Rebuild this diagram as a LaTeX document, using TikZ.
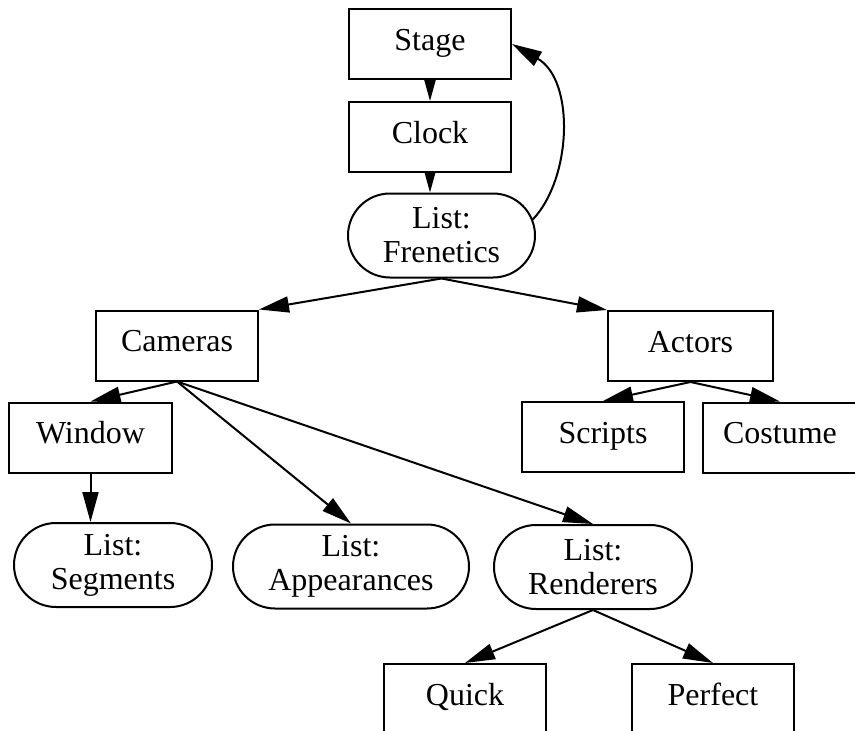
\documentclass[tikz,border=0pt]{standalone}
\usepackage{fontspec}
\setmainfont{Liberation Serif}
\usetikzlibrary{arrows.meta, shapes.misc, backgrounds}
\newcommand{\nodefont}{\fontsize{32}{34}\selectfont}
\tikzset{
  bx/.style={draw, fill=white, line width=2pt, minimum width=#1,
             minimum height=70pt, inner sep=0pt, align=center,
             text height=21pt, text depth=9pt, font=\nodefont},
  bx/.default=162pt,
  lst/.style={rounded rectangle, draw, fill=white, line width=2pt,
              minimum width=#1, minimum height=84pt, inner sep=0pt,
              align=center, font=\nodefont},
  arr/.style={-{Triangle[length=30pt, width=16pt]}, line width=2pt},
}

\begin{document}
\begin{tikzpicture}[x=1pt, y=-1pt]
    \useasboundingbox (0,0) rectangle (855,731);
    \clip (0,0) rectangle (855,731);

    % ── TOP ─────────────────────────────────────────────────
    \node[bx](stage) at (430,44){Stage};
    \node[bx](clock) at (430,137){Clock};
    \node[lst=187pt](fren) at (441.5,235.5){List:\\Frenetics};

    % ── SECOND ROW ──────────────────────────────────────────
    \node[bx](cam)    at (177,345.5){Cameras};
    \node[bx=165pt](actors) at (690.5,346){Actors};

    % ── THIRD ROW ───────────────────────────────────────────
    \node[bx=163pt](window) at (90.5,437.5){Window};
    \node[bx](scripts) at (603,437){Scripts};
    \node[bx=154pt](costume) at (780,437.5){Costume};

    % ── LISTS ───────────────────────────────────────────────
    \node[lst=198pt](seg)  at (113,565){List:\\Segments};
    \node[lst=236pt](app)  at (351,566.5){List:\\Appearances};
    \node[lst=198pt](rend) at (593,567){List:\\Renderers};

    % ── BOTTOM (cut by the page) ────────────────────────────
    \node[bx](quick)   at (465,699){Quick};
    \node[bx](perfect) at (713,699){Perfect};

    % ── EDGES ───────────────────────────────────────────────
    \begin{scope}[on background layer]
      \draw[arr] (stage.south) -- (clock.north);
      \draw[arr] (clock.south) -- (clock.south |- fren.north);
      \draw[arr] (fren.10) .. controls (572,178) and (575,80) .. (stage.east);
      \draw[arr] (fren.south) -- (cam.north east);
      \draw[arr] (fren.south) -- (actors.north west);
      \draw[arr] (cam.south) -- (window.north);
      \draw[arr] (cam.south) -- (app.north);
      \draw[arr] (cam.south) -- (rend.north);
      \draw[arr] (actors.south) -- (scripts.north);
      \draw[arr] (actors.south) -- (costume.north);
      \draw[arr] (window.south) -- (window.south |- seg.north);
      \draw[arr] (rend.south) -- (quick.north);
      \draw[arr] (rend.south) -- (perfect.north);
    \end{scope}
\end{tikzpicture}
\end{document}
